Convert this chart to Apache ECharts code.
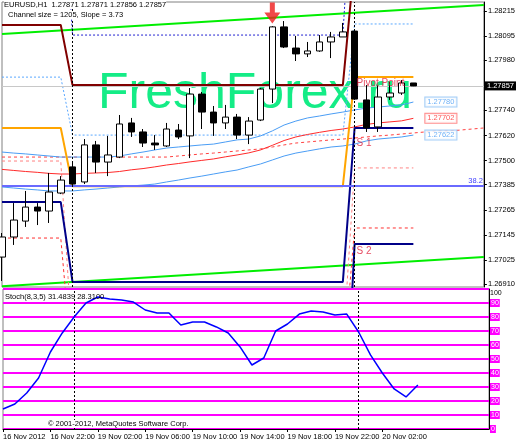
<!DOCTYPE html>
<html><head><meta charset="utf-8">
<script src="https://cdn.jsdelivr.net/npm/echarts@6/dist/echarts.min.js"></script>
<style>html,body{margin:0;padding:0;background:#fff;overflow:hidden}#c{width:518px;height:444px}</style>
</head><body><div id="c"></div>
<script>
// ---------- data ----------
const categories = [
 '16 Nov 18:00','16 Nov 19:00','16 Nov 20:00','16 Nov 21:00','16 Nov 22:00','16 Nov 23:00',
 '19 Nov 00:00','19 Nov 01:00','19 Nov 02:00','19 Nov 03:00','19 Nov 04:00','19 Nov 05:00',
 '19 Nov 06:00','19 Nov 07:00','19 Nov 08:00','19 Nov 09:00','19 Nov 10:00','19 Nov 11:00',
 '19 Nov 12:00','19 Nov 13:00','19 Nov 14:00','19 Nov 15:00','19 Nov 16:00','19 Nov 17:00',
 '19 Nov 18:00','19 Nov 19:00','19 Nov 20:00','19 Nov 21:00','19 Nov 22:00','19 Nov 23:00',
 '20 Nov 00:00','20 Nov 01:00','20 Nov 02:00','20 Nov 03:00','20 Nov 04:00','20 Nov 05:00',
 '20 Nov 06:00','20 Nov 07:00','20 Nov 08:00','20 Nov 09:00','20 Nov 10:00','20 Nov 11:00'];
const xLabelIdx  = [0, 4, 8, 12, 16, 20, 24, 28, 32];
const xLabelText = ['16 Nov 2012','16 Nov 22:00','19 Nov 02:00','19 Nov 06:00','19 Nov 10:00','19 Nov 14:00','19 Nov 18:00','19 Nov 22:00','20 Nov 02:00'];
const priceTicks = [1.28215,1.28095,1.27980,1.27740,1.27620,1.27500,1.27385,1.27265,1.27145,1.27025,1.26910];
const stochTicks = [0,10,20,30,40,50,60,70,80,90,100];
const daySeparators = [6, 30];

// open, close, low, high
const ohlc = [
 [1.27039,1.27135,1.26925,1.27154],[1.27135,1.27216,1.27097,1.27297],[1.27211,1.27278,1.27183,1.27355],
 [1.27278,1.27259,1.27192,1.27297],[1.27259,1.27350,1.27202,1.27441],[1.27345,1.27407,1.27340,1.27426],
 [1.27470,1.27388,1.27379,1.27489],[1.27398,1.27575,1.27388,1.27603],[1.27575,1.27493,1.27441,1.27594],
 [1.27493,1.27527,1.27426,1.27618],[1.27517,1.27675,1.27512,1.27718],[1.27680,1.27637,1.27613,1.27704],
 [1.27637,1.27584,1.27565,1.27651],[1.27584,1.27575,1.27551,1.27622],[1.27570,1.27651,1.27565,1.27680],
 [1.27646,1.27613,1.27603,1.27675],[1.27618,1.27818,1.27512,1.27847],[1.27818,1.27732,1.27651,1.27828],
 [1.27732,1.27680,1.27618,1.27761],[1.27680,1.27708,1.27651,1.27766],[1.27708,1.27622,1.27603,1.27723],
 [1.27622,1.27689,1.27579,1.27708],[1.27694,1.27842,1.27689,1.27847],[1.27842,1.28139,1.27775,1.28143],
 [1.28139,1.28043,1.28038,1.28167],[1.28038,1.28010,1.27976,1.28096],[1.28010,1.28024,1.27995,1.28067],
 [1.28024,1.28067,1.28020,1.28100],[1.28067,1.28091,1.27990,1.28115],[1.28091,1.28115,1.28091,1.28158],
 [1.28119,1.27794,1.27790,1.28124],[1.27790,1.27656,1.27637,1.27861],[1.27661,1.27804,1.27637,1.27861],
 [1.27804,1.27823,1.27790,1.27876],[1.27823,1.27871,1.27814,1.27885],[1.27871,1.27857,1.27856,1.27871]];
const bid = 1.27857;

const bandUpper = [1.27541,1.27536,1.27532,1.27527,1.27522,1.27517,1.27517,1.27517,1.27517,1.27517,1.27522,1.27532,
 1.27541,1.27551,1.27560,1.27565,1.27570,1.27575,1.27579,1.27589,1.27599,1.27603,1.27618,1.27642,
 1.27670,1.27689,1.27704,1.27713,1.27723,1.27732,1.27742,1.27751,1.27756,1.27761,1.27766,1.27780];
const bandMiddle = [1.27458,1.27453,1.27448,1.27444,1.27439,1.27436,1.27436,1.27439,1.27441,1.27443,1.27448,1.27456,
 1.27462,1.27470,1.27479,1.27486,1.27494,1.27501,1.27508,1.27518,1.27527,1.27537,1.27551,1.27573,
 1.27596,1.27613,1.27625,1.27635,1.27644,1.27651,1.27661,1.27673,1.27680,1.27685,1.27690,1.27702];
const bandLower = [1.27374,1.27369,1.27364,1.27360,1.27355,1.27355,1.27355,1.27360,1.27364,1.27369,1.27374,1.27379,
 1.27383,1.27388,1.27398,1.27407,1.27417,1.27426,1.27436,1.27446,1.27455,1.27470,1.27484,1.27503,
 1.27522,1.27536,1.27546,1.27556,1.27565,1.27570,1.27579,1.27594,1.27603,1.27608,1.27613,1.27622];
const shiftedMid = [1.27517,1.27517,1.27517,1.27517,1.27517,1.27517,1.27517,1.27517,1.27517,1.27517,1.27517,1.27517,
 1.27517,1.27517,1.27517,1.27522,1.27527,1.27532,1.27536,1.27541,1.27546,1.27551,1.27556,1.27565,
 1.27575,1.27584,1.27589,1.27594,1.27599,1.27603,1.27608,1.27613,1.27618,1.27622,1.27627,1.27632,
 1.27637,1.27642,1.27642,1.27646,1.27651,1.27656];

const dayBars = [6, 24, 6];
const r1Daily     = [1.28148, 1.27861, 1.28460];
const pivotDaily  = [1.27656, 1.27378, 1.27900];
const s1Daily     = [1.27302, 1.26920, 1.27656];
const s2Daily     = [1.26600, 1.26000, 1.27101];
const hiDotDaily  = [1.29000, 1.28100, 1.29000];
const midDotDaily = [1.27899, 1.27622, 1.28153];
const lowDotADaily= [1.27130, 1.26500, 1.27178];
const lowDotBDaily= [1.27498, 1.26600, 1.27465];
const fibLevel = 1.27378;

const channelIdx   = [0, 41];
const channelUpper = [1.28105, 1.28244];
const channelLower = [1.26900, 1.27039];

const signalIdx = 23;
const stochMain = [14.3,17.9,25.7,36.4,55,68.6,80,90,94.3,92.9,92.1,90.7,85,82.9,82.9,74.3,76.4,76.4,72.9,68.6,
 58.6,45.7,50.7,70,75,82.1,84.3,83.6,81.4,82.1,69.3,52.9,40,28.6,22.9,31.48];

// ---------- helpers ----------
function expandDaily(vals){const out=[];vals.forEach((v,d)=>{for(let k=0;k<dayBars[d];k++)out.push(v);});return out;}
const FONT = 'Liberation Sans';
function lineS(name, data, color, width, type, z){
  return {name, type:'line', xAxisIndex:0, yAxisIndex:0, data, symbol:'none', silent:true, z:z||3,
    lineStyle:{color, width, type:type||'solid'}, animation:false};
}

const chart = echarts.init(document.getElementById('c'), null, {renderer:'canvas'});
const option = {
  animation:false,
  backgroundColor:'#ffffff',
  textStyle:{fontFamily:FONT},
  grid:[
    {left:2, top:2, width:487, height:285, show:true, borderColor:'#808080', borderWidth:1},
    {left:2, top:289, width:487, height:140, show:true, borderColor:'#808080', borderWidth:1}
  ],
  xAxis:[
    {type:'category', gridIndex:0, data:categories, boundaryGap:false, axisLine:{show:false}, axisTick:{show:false}, axisLabel:{show:false}, splitLine:{show:false}},
    {type:'category', gridIndex:1, data:categories, boundaryGap:false,
     axisLine:{show:true, lineStyle:{color:'#000'}},
     axisTick:{show:true, length:3, lineStyle:{color:'#000'}, interval:(i)=>xLabelIdx.includes(i)},
     axisLabel:{show:true, interval:(i)=>xLabelIdx.includes(i), align:'left', margin:4, fontSize:7.5, color:'#000', fontFamily:FONT,
       formatter:(v,i)=>{const k=xLabelIdx.indexOf(i);return k>=0?xLabelText[k]:'';}},
     splitLine:{show:false}}
  ],
  yAxis:[
    {type:'value', gridIndex:0, position:'right', min:1.26896, max:1.28258, scale:true,
     axisLine:{show:true, lineStyle:{color:'#000'}},
     axisTick:{show:true, length:3, inside:false, customValues:priceTicks, lineStyle:{color:'#000'}},
     axisLabel:{show:true, customValues:priceTicks, margin:4, fontSize:7.5, color:'#000', fontFamily:FONT, formatter:(v)=>v.toFixed(5)},
     splitLine:{show:false}},
    {type:'value', gridIndex:1, position:'right', min:0, max:100, interval:10,
     axisLine:{show:true, lineStyle:{color:'#000'}},
     axisTick:{show:false},
     axisLabel:{show:true, customValues:stochTicks, margin:1, fontSize:7, fontFamily:FONT,
       formatter:(v)=> v===100 ? '{k|100}' : '{m|'+v+'}',
       rich:{k:{color:'#000', fontSize:7, padding:[9,0,0,0]}, m:{color:'#fff', backgroundColor:'#ff00ff', fontSize:7, padding:[1,1,0,1]}}},
     splitLine:{show:true, lineStyle:{color:'#ff00ff', width:2}}}
  ],
  graphic:[
    {type:'text', left:98, top:69, z:0, silent:true, style:{text:'FreshForex.ru', fill:'#14ec86', font:'50px "Liberation Sans"'}},
    {type:'text', left:4, top:1, z:50, style:{text:'EURUSD,H1  1.27871 1.27871 1.27856 1.27857', fill:'#000', font:'7.5px "Liberation Sans"', backgroundColor:'#fff'}},
    {type:'text', left:8, top:11, z:50, style:{text:'Channel size = 1205, Slope = 3.73', fill:'#000', font:'7.5px "Liberation Sans"', backgroundColor:'#fff'}},
    {type:'text', left:5, top:293, z:50, style:{text:'Stoch(8,3,5) 31.4839 28.3100', fill:'#000', font:'7.5px "Liberation Sans"'}},
    {type:'text', left:48, top:420, z:50, style:{text:'\u00a9 2001-2012, MetaQuotes Software Corp.', fill:'#000', font:'7.5px "Liberation Sans"', backgroundColor:'#fff'}}
  ],
  series:[
    lineS('channelUp', channelIdx.map((i,k)=>[i,channelUpper[k]]), '#00ee00', 2),
    lineS('channelLow', channelIdx.map((i,k)=>[i,channelLower[k]]), '#00ee00', 2),
    lineS('hiDot', expandDaily(hiDotDaily), '#2020d0', 1, [2,2]),
    lineS('midDot', expandDaily(midDotDaily), '#5aa8ff', 1, [2,2]),
    lineS('lowDotA', expandDaily(lowDotADaily), '#ff3030', 1, [3,3]),
    lineS('lowDotB', expandDaily(lowDotBDaily), '#ff8080', 1, [3,3]),
    lineS('shiftedMid', shiftedMid, '#ff4040', 1, [3,3]),
    lineS('bandUpper', bandUpper, '#4a9df5', 1),
    lineS('bandLower', bandLower, '#4a9df5', 1),
    lineS('bandMiddle', bandMiddle, '#ff2a2a', 1),
    lineS('r1', expandDaily(r1Daily), '#800000', 2, 'solid', 4),
    lineS('pivot', expandDaily(pivotDaily), '#ffa500', 2, 'solid', 4),
    lineS('s1', expandDaily(s1Daily), '#000088', 2, 'solid', 4),
    lineS('s2', expandDaily(s2Daily), '#000088', 2, 'solid', 4),
    {name:'fib', type:'line', data:[], xAxisIndex:0, yAxisIndex:0, z:4,
     markLine:{silent:true, symbol:'none', animation:false, precision:5,
       lineStyle:{color:'#6a6aff', width:2, type:'solid'},
       label:{show:true, position:'insideEndTop', formatter:'38.2', color:'#4040ff', fontSize:7.5, distance:[1,1]},
       data:[{yAxis:fibLevel}]}},
    {name:'price', type:'candlestick', xAxisIndex:0, yAxisIndex:0, data:ohlc, barWidth:7, z:5,
     itemStyle:{color:'#ffffff', color0:'#000000', borderColor:'#000000', borderColor0:'#000000', borderWidth:1},
     markLine:{silent:true, symbol:'none', animation:false, precision:5, data:[
        {yAxis:bid, lineStyle:{color:'#c8c8c8', width:1, type:'solid'},
         label:{show:true, position:'end', distance:1, formatter:bid.toFixed(5), color:'#fff', backgroundColor:'#000', padding:[1,2,0,2], fontSize:7.5}},
        {xAxis:daySeparators[0], lineStyle:{color:'#000', width:1, type:[2,2]}, label:{show:false}},
        {xAxis:daySeparators[1], lineStyle:{color:'#000', width:1, type:[2,2]}, label:{show:false}}
     ]}},
    {name:'signal', type:'scatter', xAxisIndex:0, yAxisIndex:0, z:6,
     data:[[signalIdx, ohlc[signalIdx][3]]],
     symbol:'path://M5.5,0 L10.5,0 L10.5,10 L16,10 L8,21 L0,10 L5.5,10 Z', symbolSize:[16,21], symbolOffset:[0,-13],
     itemStyle:{color:'#ee1c1c'}},
    {name:'levelText', type:'scatter', xAxisIndex:0, yAxisIndex:0, z:7, symbolSize:0,
     data:[
       {value:[daySeparators[1], pivotDaily[2]], label:{formatter:'Pivot Point', position:[2,1]}},
       {value:[daySeparators[1], s1Daily[2]], label:{formatter:'S 1', position:[2,10]}},
       {value:[daySeparators[1], s2Daily[2]], label:{formatter:'S 2', position:[2,2]}}
     ],
     label:{show:true, color:'#e0203c', fontSize:10, fontFamily:FONT, align:'left', verticalAlign:'top'}},
    {name:'priceTags', type:'scatter', xAxisIndex:0, yAxisIndex:0, z:7, symbolSize:0,
     data:[
       {value:[37, bandUpper[35]], label:{color:'#4a9df5', borderColor:'#8cc0f5'}},
       {value:[37, bandMiddle[35]], label:{color:'#ff2a2a', borderColor:'#ff7070'}},
       {value:[37, bandLower[35]], label:{color:'#4a9df5', borderColor:'#8cc0f5'}}
     ],
     label:{show:true, position:'inside', offset:[4,0], formatter:(p)=>p.value[1].toFixed(5), fontSize:7.5, fontFamily:FONT,
       backgroundColor:'#fff', borderWidth:1, padding:[1,2,0,2]}},
    {name:'stoch', type:'line', xAxisIndex:1, yAxisIndex:1, data:stochMain, symbol:'none', z:5,
     lineStyle:{color:'#0000ff', width:1.5},
     markLine:{silent:true, symbol:'none', animation:false, label:{show:false},
       lineStyle:{color:'#000', width:1, type:[2,2]},
       data:[{xAxis:daySeparators[0]},{xAxis:daySeparators[1]}]}}
  ]
};
chart.setOption(option);
</script></body></html>
